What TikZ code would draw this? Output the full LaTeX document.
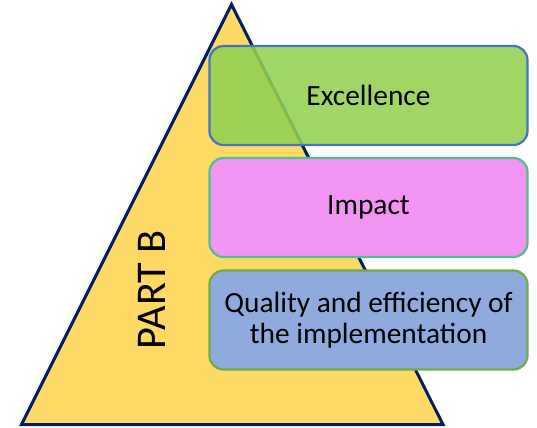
\documentclass[tikz,border=0pt]{standalone}
\usepackage{fontspec}
\setmainfont{Carlito}
\definecolor{triyellow}{HTML}{FFD966}
\definecolor{trinavy}{HTML}{002060}
\definecolor{exgreen}{HTML}{92D050}
\definecolor{exborder}{HTML}{4472C4}
\definecolor{impink}{HTML}{F294F2}
\definecolor{imborder}{HTML}{4DC08F}
\definecolor{qublue}{HTML}{8FAADC}
\definecolor{quborder}{HTML}{70AD47}
\tikzset{
  box/.style={rounded corners=14bp, line width=2.2bp, minimum width=318bp, minimum height=99bp, align=center, font=\fontsize{29.5}{31}\selectfont},
}
\begin{document}
\begin{tikzpicture}[x=1bp,y=-1bp]
\useasboundingbox (0,0) rectangle (537,427);
\coordinate (apex) at (231.5,4.5);
\coordinate (bl) at (21.5,424.5);
\coordinate (br) at (443,424.5);
\filldraw[fill=triyellow, draw=trinavy, line width=3bp, line join=miter] (apex) -- (br) -- (bl) -- cycle;
\node[rotate=90, font=\fontsize{42.5}{48}\selectfont, inner sep=0pt] (partb) at (151.5,289.5) {PART B};
\node[box, draw=exborder, fill=exgreen, fill opacity=0.88, text opacity=1] (ex) at (368.5,95.5) {Excellence};
\node[box, draw=imborder, fill=impink] (im) at (368.5,207.5) {Impact};
\node[box, draw=quborder, fill=qublue] (qu) at (368.5,320) {Quality and efficiency of\\the implementation};
\end{tikzpicture}
\end{document}
